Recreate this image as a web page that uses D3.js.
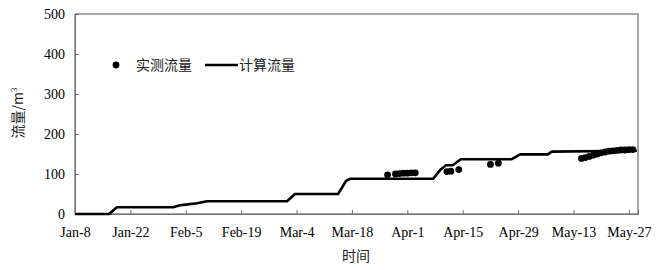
<!DOCTYPE html>
<html><head><meta charset="utf-8">
<script src="https://cdn.jsdelivr.net/npm/d3@7/dist/d3.min.js"></script>
<style>body{margin:0;background:#fff}</style>
</head><body><svg id="c" width="663" height="270"></svg>
<script>
// Day offsets from Jan-8
const tickDays = [0, 14, 28, 42, 56, 70, 84, 98, 112, 126, 140];
const tickLabels = ["Jan-8","Jan-22","Feb-5","Feb-19","Mar-4","Mar-18","Apr-1","Apr-15","Apr-29","May-13","May-27"];
const yTicks = [0, 100, 200, 300, 400, 500];

// 计算流量 (computed)
const calcDays = [0, 8.6, 10.6, 24.8, 26.5, 28.5, 30.8, 33.4, 53.6, 55.6, 66.5, 68.5, 69.5, 90.5, 92.5, 93.8, 95.5, 97.5, 110.4, 112.5, 119.5, 120.5, 142];
const calcVals = [0, 0, 17, 17, 22, 24, 27, 32, 32, 50, 50, 83, 88, 88, 112, 122, 122, 137, 137, 149, 149, 156, 158];

// 实测流量 (observed)
const obsDays = [79, 81, 82, 83, 84, 85, 86, 94, 95, 97, 105, 107, 128, 129, 130, 131, 132, 133, 134, 135, 136, 137, 138, 139, 140, 141];
const obsVals = [98, 100, 101, 102, 102, 103, 103, 106, 107, 111, 124, 127, 139, 141, 144, 147, 150, 153, 155, 157, 158, 159, 160, 160, 161, 161];

const svg = d3.select("#c");
const L = 75, R = 638, T = 14, B = 214;
const x = d3.scaleLinear().domain([0, 142.3]).range([L, R]);
const y = d3.scaleLinear().domain([0, 500]).range([B, T]);
const axisCol = "#6f6f6f";
const serif = "'Liberation Serif','Times New Roman',serif";
const cjk = "'Noto Sans CJK SC','Noto Sans CJK JP',sans-serif";

// frame
svg.append("rect").attr("x", L).attr("y", T).attr("width", R - L).attr("height", B - T)
  .attr("fill", "none").attr("stroke", axisCol).attr("stroke-width", 1.2);

const gx = svg.append("g").attr("transform", `translate(0,${B})`)
  .call(d3.axisBottom(x).tickValues(tickDays).tickFormat((d, i) => tickLabels[i]).tickSize(-4).tickPadding(13));
gx.select(".domain").attr("stroke", axisCol);
gx.selectAll("line").attr("stroke", axisCol);
gx.selectAll("text").attr("font-family", serif).attr("font-size", 14).attr("fill", "#000");

const gy = svg.append("g").attr("transform", `translate(${L},0)`)
  .call(d3.axisLeft(y).tickValues(yTicks).tickSize(-4).tickPadding(10));
gy.select(".domain").attr("stroke", axisCol);
gy.selectAll("line").attr("stroke", axisCol);
gy.selectAll("text").attr("font-family", serif).attr("font-size", 14).attr("fill", "#000");

// computed line
const line = d3.line().x((d, i) => x(calcDays[i])).y((d, i) => y(calcVals[i]));
svg.append("path").datum(calcVals).attr("d", line)
  .attr("fill", "none").attr("stroke", "#000").attr("stroke-width", 2.6).attr("stroke-linejoin", "round");

// observed dots
svg.append("g").selectAll("circle").data(obsVals).join("circle")
  .attr("cx", (d, i) => x(obsDays[i])).attr("cy", d => y(d)).attr("r", 3.4).attr("fill", "#000");

// legend
const lg = svg.append("g");
lg.append("circle").attr("cx", 116).attr("cy", 65).attr("r", 3.4).attr("fill", "#000");
lg.append("text").attr("x", 136).attr("y", 70).text("实测流量")
  .attr("font-family", cjk).attr("font-size", 14).attr("fill", "#222");
lg.append("line").attr("x1", 205).attr("x2", 238).attr("y1", 65).attr("y2", 65)
  .attr("stroke", "#000").attr("stroke-width", 2.6);
lg.append("text").attr("x", 239).attr("y", 70).text("计算流量")
  .attr("font-family", cjk).attr("font-size", 14).attr("fill", "#222");

// axis titles
svg.append("text").attr("x", 356).attr("y", 261).attr("text-anchor", "middle")
  .attr("font-family", cjk).attr("font-size", 14).attr("fill", "#222").text("时间");
const yt = svg.append("text").attr("transform", "translate(23,113) rotate(-90)")
  .attr("text-anchor", "middle").attr("font-family", cjk).attr("font-size", 14).attr("fill", "#222");
yt.append("tspan").text("流量/m");
yt.append("tspan").attr("font-size", 9).attr("dy", -6).attr("font-family", serif).text("3");
</script></body></html>
